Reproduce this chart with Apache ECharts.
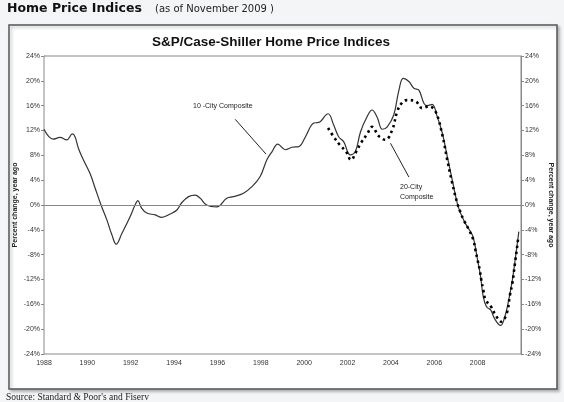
<!DOCTYPE html>
<html>
<head>
<meta charset="utf-8">
<script src="https://cdn.jsdelivr.net/npm/echarts@6/dist/echarts.min.js"></script>
<style>
html,body{margin:0;padding:0;background:#f4f5f6;}
#c{width:564px;height:402px;}
</style>
</head>
<body>
<div id="c"></div>
<script>
var yearTicks = [1988, 1990, 1992, 1994, 1996, 1998, 2000, 2002, 2004, 2006, 2008];
var yTicks = [-24, -20, -16, -12, -8, -4, 0, 4, 8, 12, 16, 20, 24];

var years10 = [1988.0,1988.43,1988.74,1989.05,1989.31,1989.43,1989.59,1989.82,1990.12,1990.36,1990.63,1990.9,1991.13,1991.33,1991.59,1991.97,1992.2,1992.33,1992.5,1992.74,1993.13,1993.43,1993.82,1994.13,1994.36,1994.67,1994.97,1995.2,1995.5,1995.97,1996.43,1996.74,1997.2,1997.59,1997.97,1998.28,1998.52,1998.78,1999.13,1999.44,1999.75,2000.06,2000.44,2000.67,2001.1,2001.36,2001.59,2001.82,2002.13,2002.36,2002.6,2002.9,2003.13,2003.37,2003.6,2003.83,2004.13,2004.37,2004.57,2004.83,2005.06,2005.29,2005.52,2005.68,2005.9,2006.14,2006.37,2006.6,2006.83,2007.06,2007.21,2007.44,2007.75,2007.86,2008.0,2008.14,2008.26,2008.41,2008.6,2008.78,2009.06,2009.21,2009.4,2009.6,2009.75,2009.9];
var values10 = [12.2,10.6,10.9,10.5,11.45,11.0,9.1,7.26,5.1,2.7,0,-2.4,-4.8,-6.3,-4.6,-1.9,0,0.7,-0.5,-1.3,-1.6,-2.0,-1.45,-0.8,0.4,1.35,1.6,1.1,0,-0.3,1.1,1.35,1.9,2.95,4.6,7.3,8.6,9.8,8.9,9.3,9.4,11.0,13.2,13.3,14.7,12.9,11.0,10.2,8.06,8.6,11.8,14.2,15.3,14.1,12.2,12.6,14.5,18.5,20.4,19.9,18.8,18.5,16.4,16.0,16.2,14.2,11.6,7.8,4.0,0.3,-1.3,-3.0,-4.8,-6.2,-8.9,-11.6,-14.8,-16.4,-16.9,-18.3,-19.4,-18.5,-15.9,-12.1,-8.3,-4.3];

var years20 = [2001.1,2001.36,2001.64,2001.93,2002.16,2002.4,2002.63,2002.9,2003.13,2003.44,2003.75,2004.06,2004.29,2004.52,2004.75,2005.14,2005.45,2005.75,2006.06,2006.37,2006.6,2006.83,2007.06,2007.21,2007.37,2007.6,2007.8,2007.9,2008.0,2008.1,2008.17,2008.26,2008.36,2008.62,2008.82,2009.09,2009.34,2009.49,2009.6,2009.71,2009.83,2009.88];
var values20 = [12.4,11.0,9.7,8.6,7.26,8.6,10.05,11.4,12.6,11.1,10.5,12.1,15.05,16.5,16.9,16.7,15.6,15.9,15.05,11.3,7.26,3.5,0.3,-1.2,-2.5,-4.0,-5.6,-7.3,-8.9,-10.5,-12.1,-13.7,-15.2,-16.4,-17.7,-18.8,-17.5,-14.5,-12.6,-9.7,-6.5,-5.0];

// annotation pointer lines (data coordinates)
var pointer10 = [[1996.82, 13.8], [1998.24, 8.2]];
var pointer20 = [[2003.98, 9.95], [2004.83, 4.5]];

function zip(xs, ys){ return xs.map(function(x,i){ return [x, ys[i]]; }); }

var chart = echarts.init(document.getElementById('c'), null, {renderer:'canvas'});
var axisFont = {fontFamily:'Liberation Sans, Arial, sans-serif', fontSize:7, color:'#333'};
var yAxisCommon = {
  type:'value', min:-24, max:24, interval:4,
  axisLine:{show:true, lineStyle:{color:'#888', width:1}},
  axisTick:{show:true, length:3, lineStyle:{color:'#888'}},
  splitLine:{show:false},
  axisLabel:Object.assign({formatter:function(v){return v+'%';}, margin:4}, axisFont),
  nameLocation:'middle',
  nameMoveOverlap:false,
  nameTextStyle:{fontFamily:'Liberation Sans, Arial, sans-serif', fontSize:7, fontWeight:'bold', color:'#222'}
};

chart.setOption({
  backgroundColor:'#f4f5f6',
  animation:false,
  grid:{left:44, top:56, right:43, bottom:48, show:true, backgroundColor:'#fff', borderColor:'#888', borderWidth:1, z:1, containLabel:false, outerBoundsMode:'none'},
  xAxis:{
    type:'value', min:1988, max:2010, interval:2,
    axisLine:{show:true, lineStyle:{color:'#888'}},
    axisTick:{show:true, inside:true, length:3, lineStyle:{color:'#888'}},
    splitLine:{show:false},
    axisLabel:Object.assign({margin:6, showMaxLabel:false,
      formatter:function(v){ return yearTicks.indexOf(v) >= 0 ? String(v) : ''; }}, axisFont)
  },
  yAxis:[
    Object.assign({}, yAxisCommon, {position:'left', name:'Percent change, year ago', nameGap:25, nameRotate:90}),
    Object.assign({}, yAxisCommon, {position:'right', name:'Percent change, year ago', nameGap:26, nameRotate:-90})
  ],
  graphic:[
    {type:'rect', z:0, shape:{x:9, y:25, width:548, height:364},
     style:{fill:'#fff', stroke:'#555', lineWidth:1.5, shadowColor:'rgba(0,0,0,0.25)', shadowBlur:3, shadowOffsetX:2, shadowOffsetY:2}},
    {type:'text', z:10, x:7, y:9, style:{text:'Home Price Indices', font:'bold 12.5px "DejaVu Sans", Verdana, sans-serif', fill:'#111', textVerticalAlign:'middle'}},
    {type:'text', z:10, x:155, y:9, style:{text:'(as of November 2009 )', font:'10px "DejaVu Sans", Verdana, sans-serif', fill:'#222', textVerticalAlign:'middle'}},
    {type:'text', z:10, x:271, y:42, style:{text:'S&P/Case-Shiller Home Price Indices', font:'bold 13.5px "Liberation Sans", Arial, sans-serif', fill:'#111', textAlign:'center', textVerticalAlign:'middle'}},
    {type:'text', z:10, x:193, y:106, style:{text:'10 -City Composite', font:'7px "Liberation Sans", Arial, sans-serif', fill:'#222', textVerticalAlign:'middle'}},
    {type:'text', z:10, x:400, y:187, style:{text:'20-City', font:'7px "Liberation Sans", Arial, sans-serif', fill:'#222', textVerticalAlign:'middle'}},
    {type:'text', z:10, x:400, y:197, style:{text:'Composite', font:'7px "Liberation Sans", Arial, sans-serif', fill:'#222', textVerticalAlign:'middle'}},
    {type:'text', z:10, x:6, y:397, style:{text:"Source: Standard & Poor's and Fiserv", font:'9.5px "Liberation Serif", "Times New Roman", serif', fill:'#222', textVerticalAlign:'middle'}}
  ],
  series:[
    {
      name:'10-City Composite', type:'line', data:zip(years10, values10), smooth:0.4,
      showSymbol:false, z:4,
      lineStyle:{color:'#333', width:1.2},
      markLine:{
        silent:true, symbol:['none','none'], animation:false,
        label:{show:false},
        data:[
          [{xAxis:1988, yAxis:0, lineStyle:{color:'#888', width:1.2, type:'solid'}}, {xAxis:2010, yAxis:0}],
          [{coord:pointer10[0], lineStyle:{color:'#222', width:1, type:'solid'}}, {coord:pointer10[1]}],
          [{coord:pointer20[0], lineStyle:{color:'#222', width:1, type:'solid'}}, {coord:pointer20[1]}]
        ]
      }
    },
    {
      name:'20-City Composite', type:'line', data:zip(years20, values20), smooth:0.4,
      showSymbol:false, z:5,
      lineStyle:{color:'#000', width:2.6, type:[2.5,3.5]}
    }
  ]
});
</script>
</body>
</html>
